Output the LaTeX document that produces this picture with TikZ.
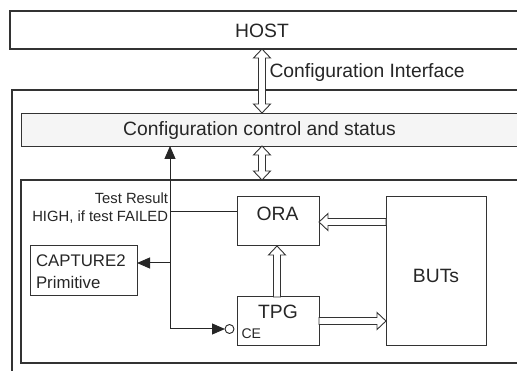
\documentclass[tikz,border=0pt]{standalone}
\usepackage{fontspec}
\setmainfont{Liberation Sans}
\usetikzlibrary{calc,arrows.meta}
\begin{document}
\begin{tikzpicture}[x=1pt,y=-1pt,
  every node/.style={inner sep=0pt, outer sep=0pt, text=black!85},
  box/.style={draw=black!80, line width=1pt, anchor=north west, inner sep=0pt},
  lbl/.style={anchor=base, font=\fontsize{19.3}{23}\selectfont},
  small/.style={font=\fontsize{14.8}{17}\selectfont},
  hollow/.style={draw=black!80, fill=white, line width=0.9pt, line join=miter},
  sig/.style={draw=black!85, line width=1pt},
  tip/.style={-{Triangle[length=13pt,width=11pt]}}]
\useasboundingbox (0,0) rectangle (517,371);
\clip (0,0) rectangle (517,371);

% frames
\node[box, line width=2pt, minimum width=530, minimum height=38] (host) at (10,11) {};
\node[box, line width=2pt, minimum width=530, minimum height=300] (outer) at (12,90) {};
\node[box, line width=0.9pt, fill=gray!8, minimum width=520, minimum height=33] (ctrl) at (21,113) {};
\node[box, line width=1.2pt, minimum width=520, minimum height=183] (inner) at (21,180) {};

% blocks
\node[box, minimum width=82, minimum height=49] (ora) at (237,197) {};
\node[box, minimum width=82, minimum height=49] (tpg) at (237,297) {};
\node[box, minimum width=100, minimum height=149] (buts) at (386,197) {};
\node[box, minimum width=107, minimum height=50] (cap) at (30,246) {};

% texts
\node[lbl] (hosttxt) at (262,37.7) {HOST};
\node[lbl, anchor=base west] (ifacetxt) at (269.5,77.7) {Configuration Interface};
\node[lbl] (ctrltxt) at (259.5,136) {Configuration control and status};
\node[lbl] (oratxt) at (277.5,221) {ORA};
\node[lbl] (tpgtxt) at (278,319) {TPG};
\node[lbl] (butstxt) at (436,282.7) {BUTs};
\node[anchor=base west, font=\fontsize{14}{16}\selectfont] (cetxt) at (241.5,339) {CE};
\node[anchor=base west, font=\fontsize{16.8}{20}\selectfont] (captxt1) at (36,267) {CAPTURE2};
\node[anchor=base west, font=\fontsize{16.8}{20}\selectfont] (captxt2) at (36,289) {Primitive};
\node[small, anchor=base east] (res1) at (168,203.3) {Test Result};
\node[small, anchor=base east] (res2) at (168,222) {HIGH, if test FAILED};

% hollow bus arrows
\coordinate (cix) at (262,0);
\coordinate (a1) at (cix |- host.south);
\coordinate (a2) at (cix |- ctrl.north);
\draw[hollow] (a1) -- ++(8.5,9) -- ++(-5,0) -- ($(a2)+(3.5,-9)$) -- ++(5,0) -- (a2)
  -- ++(-8.5,-9) -- ++(5,0) -- ($(a1)+(-3.5,9)$) -- ++(-5,0) -- cycle;
\coordinate (b1) at (cix |- ctrl.south);
\coordinate (b2) at (cix |- inner.north);
\draw[hollow] (b1) -- ++(8.5,9) -- ++(-5,0) -- ($(b2)+(3.5,-9)$) -- ++(5,0) -- (b2)
  -- ++(-8.5,-9) -- ++(5,0) -- ($(b1)+(-3.5,9)$) -- ++(-5,0) -- cycle;

% BUTs -> ORA
\coordinate (ry) at (0,222);
\coordinate (rt) at (ry -| ora.east);
\coordinate (rs) at (ry -| buts.west);
\draw[hollow] (rt) -- ++(9,-8.5) -- ++(0,5) -- ($(rs)+(0,-3.5)$) -- ($(rs)+(0,3.5)$)
  -- ($(rt)+(9,3.5)$) -- ++(0,5) -- cycle;
% TPG -> BUTs
\coordinate (ty) at (0,321);
\coordinate (tt) at (ty -| buts.west);
\coordinate (ts) at (ty -| tpg.east);
\draw[hollow] (tt) -- ++(-9,-8.5) -- ++(0,5) -- ($(ts)+(0,-3.5)$) -- ($(ts)+(0,3.5)$)
  -- ($(tt)+(-9,3.5)$) -- ++(0,5) -- cycle;
% TPG -> ORA
\coordinate (ux) at (277,0);
\coordinate (ut) at (ux |- ora.south);
\coordinate (us) at (ux |- tpg.north);
\draw[hollow] (ut) -- ++(8.5,9) -- ++(-5,0) -- ($(us)+(3.5,0)$) -- ($(us)+(-3.5,0)$)
  -- ($(ut)+(-3.5,9)$) -- ++(-5,0) -- cycle;

% control signals
\node[circle, draw=black!85, fill=white, line width=0.9pt, minimum size=9pt] (ce) at (229.5,329) {};
\coordinate (bus) at (170,0);
\coordinate (busbot) at (bus |- ce);
\draw[sig, tip] (busbot) -- (bus |- ctrl.south);
\draw[sig, tip] (busbot) -- (ce.west);
\coordinate (tap) at (170,263);
\draw[sig, tip] (tap) -- (tap -| cap.east);
\coordinate (res) at (170,212);
\draw[sig] (res) -- (res -| ora.west);
\end{tikzpicture}
\end{document}
